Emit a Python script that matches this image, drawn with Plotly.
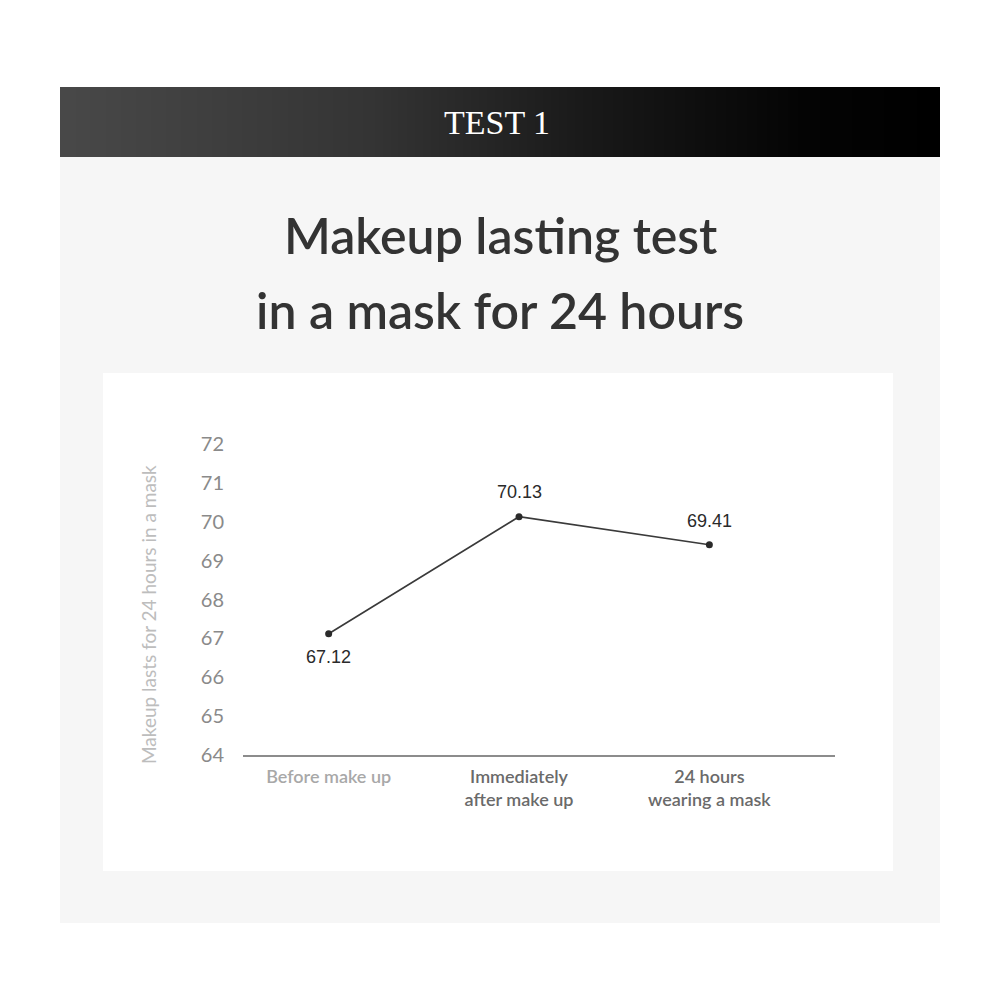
import plotly.graph_objects as go

# data
stages = ["Before make up", "Immediately<br>after make up", "24 hours<br>wearing a mask"]
stage_colors = ["#a8a8a8", "#6a6a6a", "#6a6a6a"]
scores = [67.12, 70.13, 69.41]
label_shift = [-23, 25, 24]
y_ticks = [64, 65, 66, 67, 68, 69, 70, 71, 72]
grid_values = [72, 69, 67]

header_stops = [[0.0, "#484848"], [0.35, "#343434"], [0.6, "#191919"], [0.85, "#040404"], [1.0, "#000000"]]

# 頁面本身有 8px 的邊距
OFF = 8


def px(x):
    return (x - OFF) / 1000


def py(y):
    return 1 - (y - OFF) / 1000


fig = go.Figure()

# 折線
fig.add_trace(go.Scatter(
    x=stages,
    y=scores,
    mode="lines+markers",
    line=dict(color="#3a3a3a", width=1.6),
    marker=dict(color="#2a2a2a", size=7),
    hoverinfo="skip",
    showlegend=False,
))

# 標題列的漸層
fig.add_trace(go.Heatmap(
    z=[list(range(60))],
    colorscale=header_stops,
    showscale=False,
    zsmooth="best",
    hoverinfo="skip",
    xaxis="x2",
    yaxis="y2",
))

# 數值標籤
for s, v, dy in zip(stages, scores, label_shift):
    fig.add_annotation(
        x=s, y=v, text=f"{v:.2f}", showarrow=False, yshift=dy,
        font=dict(family="Liberation Sans", size=18, color="#2a2a2a"),
    )

for g in grid_values:
    fig.add_hline(y=g, line=dict(color="#dedede", width=1), layer="below")

# 背景
fig.add_shape(type="rect", xref="paper", yref="paper", x0=px(60), x1=px(940), y0=py(923), y1=py(157),
              fillcolor="#f6f6f6", line_width=0, layer="below")
fig.add_shape(type="rect", xref="paper", yref="paper", x0=px(103), x1=px(893), y0=py(871), y1=py(373),
              fillcolor="#ffffff", line_width=0, layer="below")

fig.add_annotation(
    xref="paper", yref="paper", x=px(497), y=py(123), xanchor="center", yanchor="middle",
    text="TEST 1", showarrow=False,
    font=dict(family="Liberation Serif", size=34, color="#ffffff"),
)
for line, yc in zip(["Makeup lasting test", "in a mask for 24 hours"], [235, 310]):
    fig.add_annotation(
        xref="paper", yref="paper", x=px(500), y=py(yc), xanchor="center", yanchor="middle",
        text=line, showarrow=False,
        font=dict(family="Lato", size=50, color="#333333", weight=600),
    )
fig.add_annotation(
    xref="paper", yref="paper", x=px(148), y=py(615), xanchor="center", yanchor="middle",
    text="Makeup lasts for 24 hours in a mask", showarrow=False, textangle=-90,
    font=dict(family="Lato", size=19, color="#bdbdbd"),
)

ticktext = [f'<span style="color:{c}">{s}</span>' for s, c in zip(stages, stage_colors)]

fig.update_layout(
    width=1000,
    height=1000,
    margin=dict(l=0, r=0, t=0, b=0, autoexpand=False),
    paper_bgcolor="#ffffff",
    plot_bgcolor="rgba(0,0,0,0)",
    xaxis=dict(
        domain=[px(243), px(835)],
        range=[-0.45, 2.66],
        tickmode="array",
        tickvals=stages,
        ticktext=ticktext,
        showgrid=False,
        showline=True,
        linecolor="#8c8c8c",
        linewidth=2,
        ticks="",
        ticklabelstandoff=4,
        tickfont=dict(family="Lato", size=18, weight=600),
    ),
    yaxis=dict(
        domain=[py(755), py(444)],
        range=[64, 72],
        tickvals=y_ticks,
        showgrid=False,
        zeroline=False,
        ticks="",
        ticklabelstandoff=18,
        tickfont=dict(family="Lato", size=20, color="#8a8a8a"),
    ),
    xaxis2=dict(domain=[px(60), px(940)], visible=False, anchor="y2"),
    yaxis2=dict(domain=[py(157), py(87)], visible=False, anchor="x2"),
)

fig.write_html("out.html")
